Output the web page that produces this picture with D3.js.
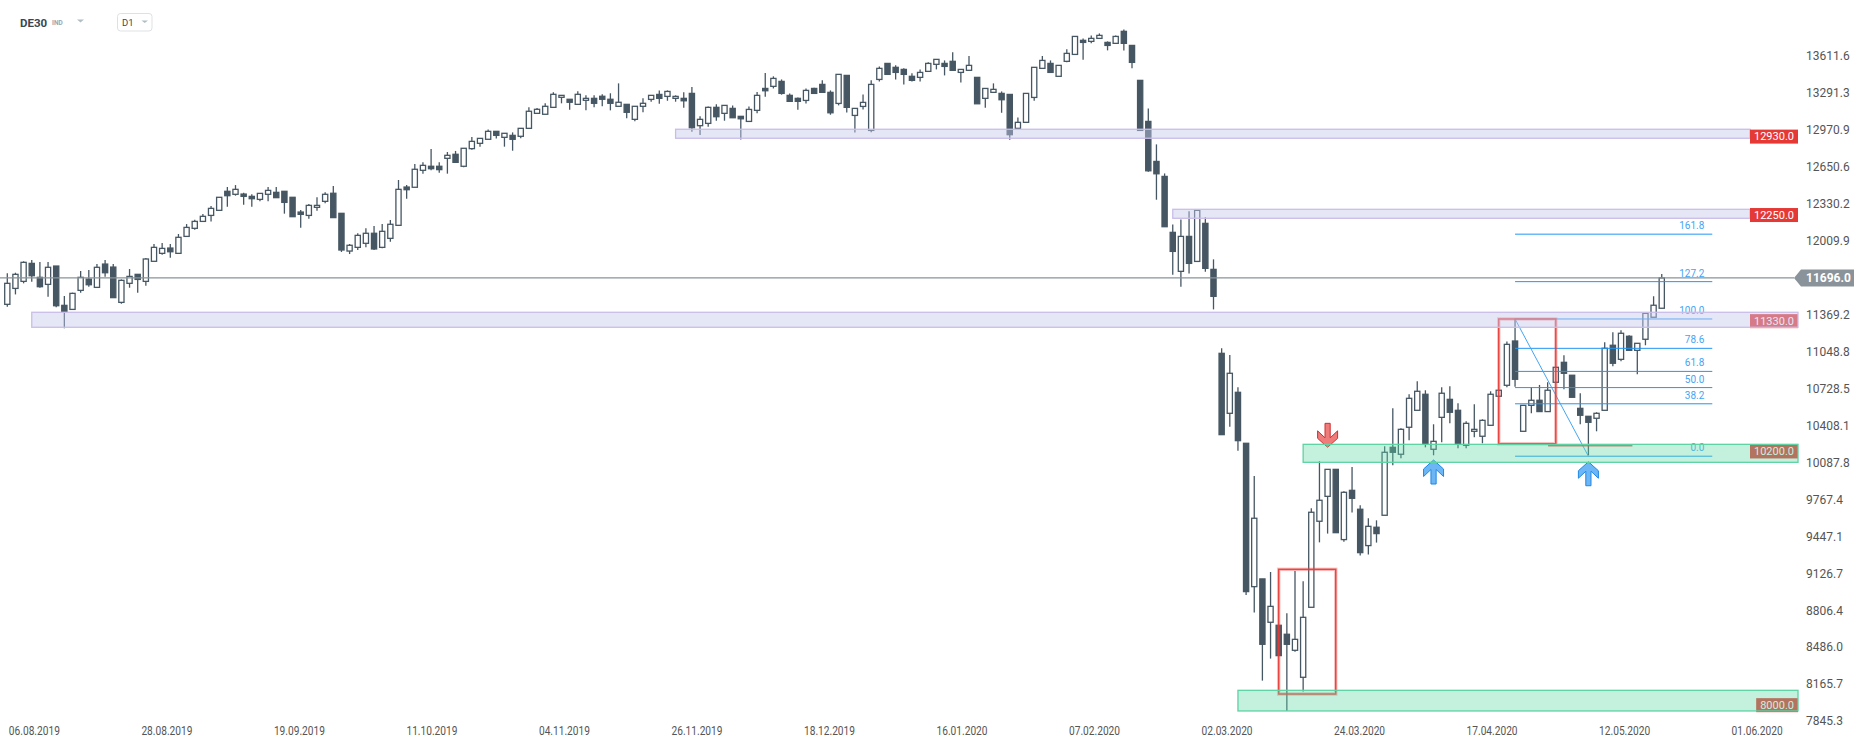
<!DOCTYPE html>
<html><head><meta charset="utf-8">
<script src="https://cdn.jsdelivr.net/npm/d3@7"></script>
<style>
body{margin:0;background:#fff}
svg{display:block;font-family:Roboto,"Noto Sans",sans-serif}
</style>
</head><body>
<svg id="c" width="1866" height="750"></svg>
<script>
// ---------------- data ----------------
const openP=[11467,11605,11666,11822,11701,11640,11799,11458,11423,11588,
11686,11614,11816,11790,11484,11649,11727,11666,11840,11909,
11955,11909,12056,12126,12186,12238,12282,12447,12421,12423,
12403,12377,12421,12438,12447,12395,12267,12238,12308,12360,
12430,12256,11929,11961,11996,12083,11961,12039,12152,12484,
12482,12629,12664,12664,12733,12768,12664,12817,12863,12898,
12967,12915,12932,12924,12993,13123,13115,13175,13262,13245,
13201,13236,13253,13271,13245,13184,13201,13071,13184,13244,
13287,13270,13253,13253,13296,13016,13036,13175,13123,13166,
13097,13053,13149,13339,13357,13400,13279,13253,13235,13339,
13374,13305,13209,13452,13105,13183,12975,13417,13556,13522,
13504,13444,13435,13487,13548,13556,13574,13478,13496,13435,
13253,13305,13296,13287,12993,13045,13261,13513,13556,13444,
13574,13634,13756,13747,13773,13738,13730,13834,13712,13409,
13053,12706,12576,12091,11753,12056,11839,12169,11770,11042,
10522,10704,10262,9019,9086,8710,8684,8606,8467,8233,
8840,9586,9802,10036,9427,9854,9690,9375,9534,9638,
10227,10167,10401,10548,10687,10210,10487,10643,10548,10245,
10366,10323,10418,10670,10765,11149,10366,10591,10635,10537,
10791,10964,10852,10565,10496,10479,10548,11112,10990,11190,
11068,11164,11355,11433];
const highP=[11736,11741,11840,11851,11834,11834,11799,11539,11568,11756,
11764,11816,11851,11816,11683,11773,11727,11868,11990,11999,
11990,12077,12163,12201,12250,12319,12395,12484,12501,12435,
12421,12429,12484,12484,12447,12395,12285,12337,12395,12438,
12493,12256,11990,12083,12126,12146,12164,12198,12545,12502,
12684,12698,12814,12698,12788,12797,12820,12918,12906,12984,
12967,12950,12958,12993,13175,13169,13210,13305,13279,13245,
13314,13279,13279,13288,13297,13383,13201,13184,13253,13279,
13322,13322,13279,13305,13351,13097,13183,13201,13192,13192,
13097,13183,13308,13472,13444,13417,13296,13261,13339,13345,
13409,13322,13461,13452,13166,13287,13409,13530,13556,13539,
13513,13470,13504,13565,13591,13582,13652,13504,13620,13435,
13339,13383,13313,13287,13088,13296,13522,13620,13582,13539,
13678,13790,13773,13799,13816,13747,13799,13850,13712,13409,
13166,12854,12602,12160,12203,12273,12282,12221,11857,11086,
11028,10748,10262,9979,9086,9146,8684,8788,9155,9065,
9698,10106,10036,10036,9846,10057,9724,9612,9594,10236,
10565,10392,10687,10800,10722,10427,10748,10756,10609,10453,
10600,10470,10713,10722,11144,11340,10591,10748,10768,10791,
10921,11025,10852,10696,10496,10531,11138,11224,11242,11198,
11129,11389,11537,11730];
const lowP=[11446,11553,11649,11663,11611,11533,11441,11259,11423,11568,
11620,11614,11707,11525,11472,11611,11568,11629,11840,11897,
11871,11909,12056,12114,12186,12186,12282,12314,12409,12331,
12314,12360,12360,12392,12253,12227,12132,12210,12279,12343,
12219,11921,11903,11938,11961,11938,11953,12010,12152,12383,
12482,12600,12629,12609,12600,12698,12655,12808,12834,12898,
12904,12834,12799,12906,12993,13123,13115,13175,13210,13155,
13201,13149,13175,13184,13149,13184,13080,13054,13132,13224,
13206,13232,13224,13172,12964,12935,13007,13059,13059,13085,
12897,13053,13123,13267,13339,13285,13227,13154,13209,13290,
13305,13111,13192,13131,12958,13157,12960,13400,13461,13417,
13374,13400,13400,13487,13504,13452,13496,13391,13496,13206,
13172,13305,13128,12894,12993,13045,13232,13513,13478,13444,
13565,13634,13588,13730,13773,13669,13730,13669,13513,12975,
12617,12374,12140,11724,11620,11735,11839,11750,11423,10337,
10406,10198,8947,8794,8204,8395,8421,7941,8455,8109,
8840,9403,9479,9487,9409,9661,9288,9297,9401,9638,
10071,10132,10288,10548,10227,10158,10271,10435,10219,10219,
10314,10262,10418,10670,10748,10753,10366,10522,10537,10537,
10791,10730,10661,10427,10158,10366,10548,10930,10973,11068,
10860,11112,11355,11433];
const closeP=[11649,11727,11831,11715,11620,11788,11455,11403,11562,11701,
11637,11788,11741,11525,11675,11709,11683,11860,11961,11952,
11923,12048,12134,12186,12230,12299,12395,12409,12464,12403,
12383,12429,12455,12392,12351,12227,12247,12325,12325,12421,
12219,11938,11979,12065,12083,11947,12100,12161,12464,12461,
12638,12672,12643,12635,12759,12698,12820,12880,12906,12967,
12932,12950,12898,12993,13141,13158,13184,13288,13279,13219,
13288,13253,13210,13245,13210,13219,13132,13184,13210,13279,
13253,13313,13270,13232,12998,13071,13175,13094,13192,13085,
13076,13157,13279,13319,13426,13296,13227,13227,13322,13296,
13305,13128,13461,13175,13166,13218,13374,13513,13461,13478,
13461,13409,13478,13556,13591,13530,13496,13504,13539,13206,
13339,13331,13241,12938,13045,13296,13522,13582,13478,13539,
13643,13790,13738,13773,13799,13712,13790,13730,13565,12975,
12625,12599,12140,11926,12056,11822,12282,11779,11536,10337,
10869,10285,8976,9612,8519,8848,8421,8519,8562,8753,
9664,9768,10036,9487,9837,9785,9314,9542,9479,10184,
10184,10383,10652,10713,10253,10279,10696,10531,10253,10435,
10383,10461,10687,10722,11120,10817,10591,10635,10537,10722,
10921,10869,10661,10505,10444,10522,11086,10956,11216,11068,
11129,11389,11459,11696];

const xTickLabels=["06.08.2019","28.08.2019","19.09.2019","11.10.2019","04.11.2019","26.11.2019","18.12.2019","16.01.2020","07.02.2020","02.03.2020","24.03.2020","17.04.2020","12.05.2020","01.06.2020"];
const yTickValues=[13611.6,13291.3,12970.9,12650.6,12330.2,12009.9,11369.2,11048.8,10728.5,10408.1,10087.8,9767.4,9447.1,9126.7,8806.4,8486.0,8165.7,7845.3];
const lastPrice=11696.0;

// horizontal zones (level shown in label, band top/bottom, first bar index)
const zoneLevels=[12930,12250,11330,10200,8000];
const zoneTops=[12985,12291,11398,10253,8120];
const zoneBottoms=[12907,12213,11268,10097,7941];
const zoneStartBars=[82,143,3,159,151];
const zoneTypes=["res","res","res","sup","sup"];

// fibonacci
const fibLevels=[161.8,127.2,100.0,78.6,61.8,50.0,38.2,0.0];
const fibHigh=11340, fibLow=10150;
const fibStartBar=185, fibLowBar=194, fibEndBar=209.2;

// red boxes [startBar, endBar, top, bottom]
const boxStartBars=[156,183];
const boxEndBars=[163,190];
const boxTops=[9169,11340];
const boxBottoms=[8088,10258];
// red horizontal line
const redLineBars=[189.05,199.4];
const redLineLevel=10241;

// arrows
const arrowBars=[162,175,194];
const arrowTips=[10227,10117,10102];
const arrowDirs=["down","up","up"];

// ---------------- chart ----------------
const svg=d3.select("#c");
const n=closeP.length;
const x=d3.scaleLinear().domain([0,n-1]).range([7.3,1661.75]);
const y=d3.scaleLinear().domain([7845.3,13611.6]).range([722,57]);
const CANDLE="#465763";
const LABEL_L=1750, LABEL_R=1798;

const data=d3.range(n).map(i=>({i,o:openP[i],h:highP[i],l:lowP[i],c:closeP[i]}));

// candles
const gC=svg.append("g");
gC.selectAll("line").data(data).join("line")
 .attr("x1",d=>x(d.i)).attr("x2",d=>x(d.i))
 .attr("y1",d=>y(d.h)).attr("y2",d=>y(d.l))
 .attr("stroke",CANDLE).attr("stroke-width",1.3);
gC.selectAll("rect").data(data).join("rect")
 .attr("x",d=>x(d.i)-2.6).attr("width",5.2)
 .attr("y",d=>y(Math.max(d.o,d.c)))
 .attr("height",d=>Math.max(1,Math.abs(y(d.o)-y(d.c))))
 .attr("fill",d=>d.c>=d.o?"#fff":CANDLE)
 .attr("stroke",CANDLE).attr("stroke-width",1.3);

// fibonacci
const gF=svg.append("g");
const fibPrice=l=>fibLow+(fibHigh-fibLow)*l/100;
gF.selectAll("line").data(fibLevels).join("line")
 .attr("x1",x(fibStartBar)).attr("x2",x(fibEndBar))
 .attr("y1",d=>y(fibPrice(d))).attr("y2",d=>y(fibPrice(d)))
 .attr("stroke","#2196f3").attr("stroke-width",1);
gF.selectAll("text").data(fibLevels).join("text")
 .attr("x",x(fibEndBar)-8).attr("y",d=>y(fibPrice(d))-8.5)
 .attr("text-anchor","end").attr("dominant-baseline","central")
 .attr("font-size",10).attr("fill","#42a5f5")
 .text(d=>d.toFixed(1));
gF.append("line")
 .attr("x1",x(fibStartBar)).attr("y1",y(fibHigh))
 .attr("x2",x(fibLowBar)).attr("y2",y(fibLow))
 .attr("stroke","#42a5f5").attr("stroke-width",1);

// red boxes
const gB=svg.append("g");
boxStartBars.forEach((b,k)=>{
  const rx=x(b), rw=x(boxEndBars[k])-x(b), ry=y(boxTops[k]), rh=y(boxBottoms[k])-y(boxTops[k]);
  gB.append("rect").attr("x",rx).attr("y",ry).attr("width",rw).attr("height",rh)
    .attr("fill","none").attr("stroke","#ef5350").attr("stroke-width",3.5).attr("stroke-opacity",0.35);
  gB.append("rect").attr("x",rx).attr("y",ry).attr("width",rw).attr("height",rh)
    .attr("fill","none").attr("stroke","#e53935").attr("stroke-width",1.5).attr("stroke-opacity",0.9);
});
gB.append("line").attr("x1",x(redLineBars[0])).attr("x2",x(redLineBars[1]))
 .attr("y1",y(redLineLevel)).attr("y2",y(redLineLevel))
 .attr("stroke","#e53935").attr("stroke-width",1.6).attr("stroke-opacity",0.8);

// arrows
function arrowPath(cx,ty,dir){
  const pts=[[0,0],[-10,9],[-10,16.5],[-2.6,9.5],[-2.6,24],[2.6,24],[2.6,9.5],[10,16.5],[10,9]];
  return "M"+pts.map(p=>[cx+p[0],ty+dir*p[1]].join(",")).join("L")+"Z";
}
const gA=svg.append("g");
arrowBars.forEach((b,k)=>{
  const down=arrowDirs[k]==="down";
  gA.append("path").attr("d",arrowPath(x(b),y(arrowTips[k]),down?-1:1))
   .attr("fill",down?"#ef7b7b":"#6cb6f5")
   .attr("stroke",down?"#d32f2f":"#1e88e5").attr("stroke-width",1);
});

// zone labels (red tags)
function zoneLabel(g,k){
  const cy=y(zoneLevels[k])+1;
  const t=g.append("text").attr("x",LABEL_R-4).attr("y",cy)
    .attr("text-anchor","end").attr("dominant-baseline","central")
    .attr("font-size",11).attr("fill","#fff").text(zoneLevels[k].toFixed(1));
  const w=t.node().getComputedTextLength()+8;
  g.insert("rect","text:last-of-type").attr("x",LABEL_R-w).attr("y",cy-7).attr("width",w).attr("height",14)
    .attr("fill","#e53935");
}
const gLblUnder=svg.append("g");
[2,3,4].forEach(k=>{const g=gLblUnder.append("g");zoneLabel(g,k);});

// zones
const gZ=svg.append("g");
zoneLevels.forEach((lv,k)=>{
  const sup=zoneTypes[k]==="sup";
  const right=(k<2)?LABEL_L:LABEL_R;
  gZ.append("rect").attr("x",x(zoneStartBars[k])).attr("y",y(zoneTops[k]))
   .attr("width",right-x(zoneStartBars[k])).attr("height",y(zoneBottoms[k])-y(zoneTops[k]))
   .attr("fill",sup?"#5ed6a6":"#c5c9ec").attr("fill-opacity",sup?0.37:0.45)
   .attr("stroke",sup?"#5dd3a3":"#c9bde8").attr("stroke-width",1.3);
});
const gLblTop=svg.append("g");
[0,1].forEach(k=>{const g=gLblTop.append("g");zoneLabel(g,k);});

// last price line + tag
const yl=y(lastPrice);
svg.append("line").attr("x1",0).attr("x2",1794).attr("y1",yl).attr("y2",yl)
 .attr("stroke","#8a9399").attr("stroke-width",1.2);
svg.append("path").attr("d",`M1794,${yl}L1801,${yl-8.5}L1854,${yl-8.5}L1854,${yl+8.5}L1801,${yl+8.5}Z`)
 .attr("fill","#8a9399");
svg.append("text").attr("x",1806).attr("y",yl).attr("dominant-baseline","central")
 .attr("font-size",12).attr("font-weight","bold").attr("fill","#fff").text(lastPrice.toFixed(1));

// y axis
const yAxis=svg.append("g").attr("transform","translate(1806,-1)")
 .call(d3.axisRight(y).tickValues(yTickValues).tickSize(0).tickPadding(0).tickFormat(d=>d.toFixed(1)));
yAxis.select(".domain").remove();
yAxis.selectAll("text").attr("font-size",12).attr("fill","#555").attr("font-family","Roboto");

// x axis
const firstTickBar=3.26, tickStepBars=16.26;
const xTickPos=xTickLabels.map((_,k)=>firstTickBar+k*tickStepBars);
const xAxis=svg.append("g").attr("transform","translate(0,720)")
 .call(d3.axisBottom(x).tickValues(xTickPos).tickSize(0).tickPadding(6).tickFormat((d,i)=>xTickLabels[i]));
xAxis.select(".domain").remove();
xAxis.selectAll("text").attr("font-size",12).attr("fill","#555").attr("font-family","Roboto")
 .attr("textLength",51).attr("lengthAdjust","spacingAndGlyphs");

// header
svg.append("text").attr("x",20).attr("y",26.5).attr("font-size",11.5).attr("font-weight","bold").attr("fill","#37474f").text("DE30");
svg.append("text").attr("x",52).attr("y",24.5).attr("font-size",6.5).attr("font-weight","bold").attr("fill","#9aa5ad").text("IND");
svg.append("path").attr("d","M77,19.5L84,19.5L80.5,22.5Z").attr("fill","#b0bec5");
svg.append("rect").attr("x",117.5).attr("y",13.5).attr("width",34.5).attr("height",17.5).attr("rx",3)
 .attr("fill","#fff").attr("stroke","#dde1e4");
svg.append("text").attr("x",122).attr("y",26).attr("font-size",9.5).attr("fill","#37474f").text("D1");
svg.append("path").attr("d","M141.5,20.5L148,20.5L144.75,23Z").attr("fill","#b0bec5");
</script>
</body></html>
